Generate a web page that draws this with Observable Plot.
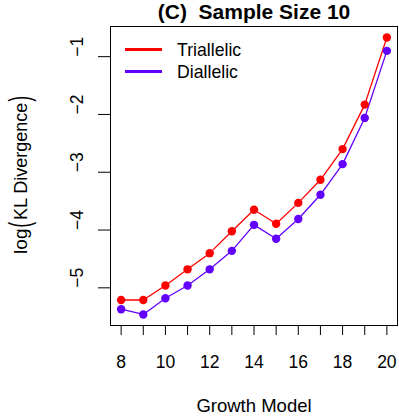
<!DOCTYPE html>
<html><head><meta charset="utf-8">
<script src="https://cdn.jsdelivr.net/npm/d3@7"></script>
<script src="https://cdn.jsdelivr.net/npm/@observablehq/plot@0.6"></script>
<style>
body{margin:0;background:#fff}
svg{font-family:"Liberation Sans",Arial,Helvetica,sans-serif}
</style>
</head><body><div id="chart"></div>
<script>
// ---- data ----
const growthModel = [8, 9, 10, 11, 12, 13, 14, 15, 16, 17, 18, 19, 20];
const triallelic = [-5.21, -5.21, -4.96, -4.68, -4.40, -4.02, -3.65, -3.89, -3.53, -3.13, -2.60, -1.83, -0.67];
const diallelic  = [-5.37, -5.46, -5.18, -4.96, -4.68, -4.36, -3.91, -4.15, -3.81, -3.39, -2.86, -2.06, -0.90];
const seriesNames = ["Triallelic", "Diallelic"];
const seriesColors = ["#FF0000", "#6200FF"];
const xTicks = [8, 9, 10, 11, 12, 13, 14, 15, 16, 17, 18, 19, 20];
const xTickLabels = [8, 10, 12, 14, 16, 18, 20];
const yTicks = [-5, -4, -3, -2, -1];
const titleText = "(C)  Sample Size 10";
const xLabel = "Growth Model";
const yLabelParts = ["log", "(", "KL Divergence", ")"];

// ---- build table ----
const data = [];
growthModel.forEach((g, i) => {
  data.push({g, v: triallelic[i], s: seriesNames[0]});
});
growthModel.forEach((g, i) => {
  data.push({g, v: diallelic[i], s: seriesNames[1]});
});

// R-style 4% axis extension
const xmin = d3.min(growthModel), xmax = d3.max(growthModel);
const xext = (xmax - xmin) * 0.04;
const allV = triallelic.concat(diallelic);
const ymin = d3.min(allV), ymax = d3.max(allV);
const yext = (ymax - ymin) * 0.04;

const fmt = d => (d < 0 ? "\u2212" + Math.abs(d) : String(d));

const plot = Plot.plot({
  width: 399, height: 416,
  marginTop: 26, marginBottom: 91, marginLeft: 110, marginRight: 2,
  x: {domain: [xmin - xext, xmax + xext]},
  y: {domain: [ymin - yext, ymax + yext]},
  color: {domain: seriesNames, range: seriesColors},
  style: {fontFamily: '"Liberation Sans", Arial, sans-serif', fontSize: "17px", background: "white", color: "black", overflow: "visible"},
  marks: [
    Plot.frame({stroke: "black", strokeWidth: 1}),
    Plot.axisX({ticks: xTicks, tickSize: 10, tickPadding: 20,
      tickFormat: d => xTickLabels.includes(d) ? String(d) : "",
      fontSize: 17.5, label: null, stroke: "black"}),
    Plot.axisY({ticks: yTicks, tickSize: 12, tickFormat: () => "", label: null, stroke: "black"}),
    Plot.text(yTicks, {y: d => d, text: d => fmt(d), frameAnchor: "left", rotate: -90, dx: -33, fontSize: 17.5, fill: "black"}),
    Plot.line(data, {x: "g", y: "v", stroke: "s", z: "s", strokeWidth: 1.3}),
    Plot.dot(data, {x: "g", y: "v", fill: "s", r: 4.2}),
    Plot.text([titleText], {frameAnchor: "top", lineAnchor: "middle", dy: -14.5, text: d => d, fontWeight: "bold", fontSize: 21, fill: "black"}),
    Plot.text([xLabel], {frameAnchor: "bottom", lineAnchor: "middle", dy: 81, text: d => d, fontSize: 18.5, fill: "black"})
  ]
});
document.getElementById("chart").appendChild(plot);

// ---- y label with large thin parentheses ----
const svg = d3.select(plot);
const yl = svg.append("g");
let cursor = 0;
yLabelParts.forEach((p, i) => {
  const isParen = p === "(" || p === ")";
  const t = yl.append("text")
    .attr("text-anchor", "start")
    .attr("fill", "black")
    .attr("font-size", isParen ? 30 : (p === "log" ? 19 : 18))
    .text(p);
  const sx = isParen ? 0.55 : 1;
  const w = t.node().getComputedTextLength() * sx;
  const gapBefore = i === 0 ? 0 : (isParen ? 1 : 2);
  cursor += gapBefore;
  t.attr("transform", `translate(${cursor},${isParen ? 3 : 0}) scale(${sx},1)`);
  cursor += w;
});
const total = cursor;
yl.attr("transform", `translate(27,${175 + total / 2}) rotate(-90)`);

// ---- legend ----
const leg = svg.append("g");
seriesNames.forEach((name, i) => {
  const y = 49.5 + i * 22;
  leg.append("line").attr("x1", 125).attr("x2", 162).attr("y1", y).attr("y2", y)
    .attr("stroke", seriesColors[i]).attr("stroke-width", 3);
  leg.append("text").attr("x", 177).attr("y", y).attr("dy", "0.35em")
    .attr("text-anchor", "start")
    .attr("font-size", 17.7).attr("fill", "black").text(name);
});
</script>
</body></html>
